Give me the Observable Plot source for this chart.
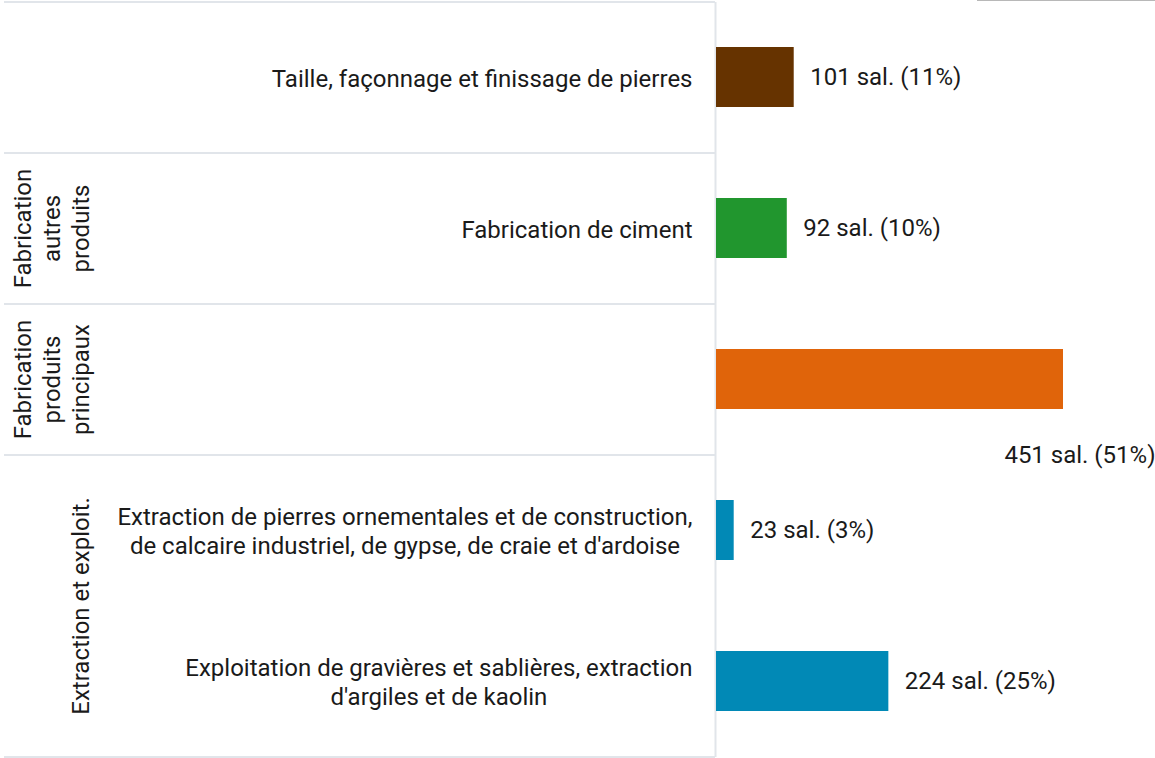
<!DOCTYPE html>
<html><head><meta charset="utf-8">
<script src="https://cdn.jsdelivr.net/npm/d3@7"></script>
<script src="https://cdn.jsdelivr.net/npm/@observablehq/plot@0.6"></script>
<style>
html,body{margin:0;padding:0;background:#fff;}
#wrap{position:relative;width:1155px;height:758px;overflow:hidden}
#corner{position:absolute;left:977px;top:0;width:178px;height:0;border-top:1px solid #b8b8b8}
</style></head><body><div id="wrap"><div id="corner"></div></div>
<script>
const categories = [
  "Taille, façonnage et finissage de pierres",
  "Fabrication de ciment",
  "",
  "Extraction de pierres ornementales et de construction,\nde calcaire industriel, de gypse, de craie et d'ardoise",
  "Exploitation de gravières et sablières, extraction\nd'argiles et de kaolin"
];
const groups = [
  "",
  "Fabrication\nautres\nproduits",
  "Fabrication\nproduits\nprincipaux",
  "Extraction et exploit.",
  "Extraction et exploit."
];
const values = [101, 92, 451, 23, 224];
const shares = [11, 10, 51, 3, 25];
const colors = ["#663300", "#21962e", "#e0640a", "#0189b6", "#0189b6"];

const rows = values.map((v, i) => ({
  i, category: categories[i], group: groups[i], value: v, share: shares[i],
  color: colors[i], label: `${v} sal. (${shares[i]}%)`
}));
const rowKeys = rows.map(d => d.i);
const spans = [];
rows.forEach(d => {
  const last = spans[spans.length - 1];
  if (last && last.group === d.group) last.n++;
  else spans.push({group: d.group, first: d.i, n: 1});
});
const maxV = d3.max(values);
const below = d => d.value > 0.8 * maxV;
const gridColor = "#e1e5ea";
const ink = "#1a1a1a";
const W = 1155, H = 758, step = (H - 3) / rows.length;
const axisX = 716, fs = 24, lh = 1.2, gap = 24;
const font = `${fs}px Roboto, sans-serif`;

// measure label blocks so multi-line labels are centred within a right-aligned block
const ctx = document.createElement("canvas").getContext("2d");
ctx.font = font;
const blockWidth = s => d3.max(s.split("\n"), l => ctx.measureText(l).width) || 0;

const labelMarks = rows.filter(d => d.category).map(d =>
  Plot.text([d], {y: "i", x: 0, text: "category", dx: -gap - blockWidth(d.category) / 2,
    textAnchor: "middle", lineAnchor: "middle", lineHeight: lh, fontSize: fs, fill: ink})
);

const chart = Plot.plot({
  width: W, height: H, marginTop: 2, marginBottom: 1, marginLeft: 4, marginRight: 0,
  style: {fontFamily: "Roboto, sans-serif", fontSize: fs + "px", color: ink, background: "#fff"},
  x: {domain: [0, maxV], range: [axisX, 1063], axis: null},
  y: {domain: rowKeys, paddingInner: 0.6, paddingOuter: 0.3, axis: null},
  color: {type: "identity"},
  marks: [
    Plot.ruleY(spans, {y: "first", dy: -step / 2, insetRight: W - axisX + 1, stroke: gridColor, strokeWidth: 2}),
    Plot.ruleY(rowKeys.slice(-1), {y: d => d, dy: step / 2, insetRight: W - axisX + 1, stroke: gridColor, strokeWidth: 2}),
    Plot.ruleX([0], {dx: -1, stroke: gridColor, strokeWidth: 2}),
    Plot.barX(rows, {y: "i", x: "value", fill: "color"}),
    ...labelMarks,
    Plot.text(rows.filter(d => !below(d)), {y: "i", x: "value", text: "label", dx: 16, textAnchor: "start", fontSize: fs, fill: ink}),
    Plot.text(rows.filter(below), {y: "i", frameAnchor: "right", text: "label", dy: step / 2, textAnchor: "end", fontSize: fs, fill: ink}),
    Plot.text(spans.filter(s => s.n === 1 && s.group), {y: "first", frameAnchor: "left", dx: 84, rotate: -90, text: "group", textAnchor: "middle", lineAnchor: "bottom", lineHeight: lh, fontSize: fs, fill: ink}),
    Plot.text(spans.filter(s => s.n === 2), {y: "first", frameAnchor: "left", dx: 84, dy: step / 2, rotate: -90, text: "group", textAnchor: "middle", lineAnchor: "bottom", lineHeight: lh, fontSize: fs, fill: ink})
  ]
});
document.getElementById("wrap").appendChild(chart);
</script></body></html>
